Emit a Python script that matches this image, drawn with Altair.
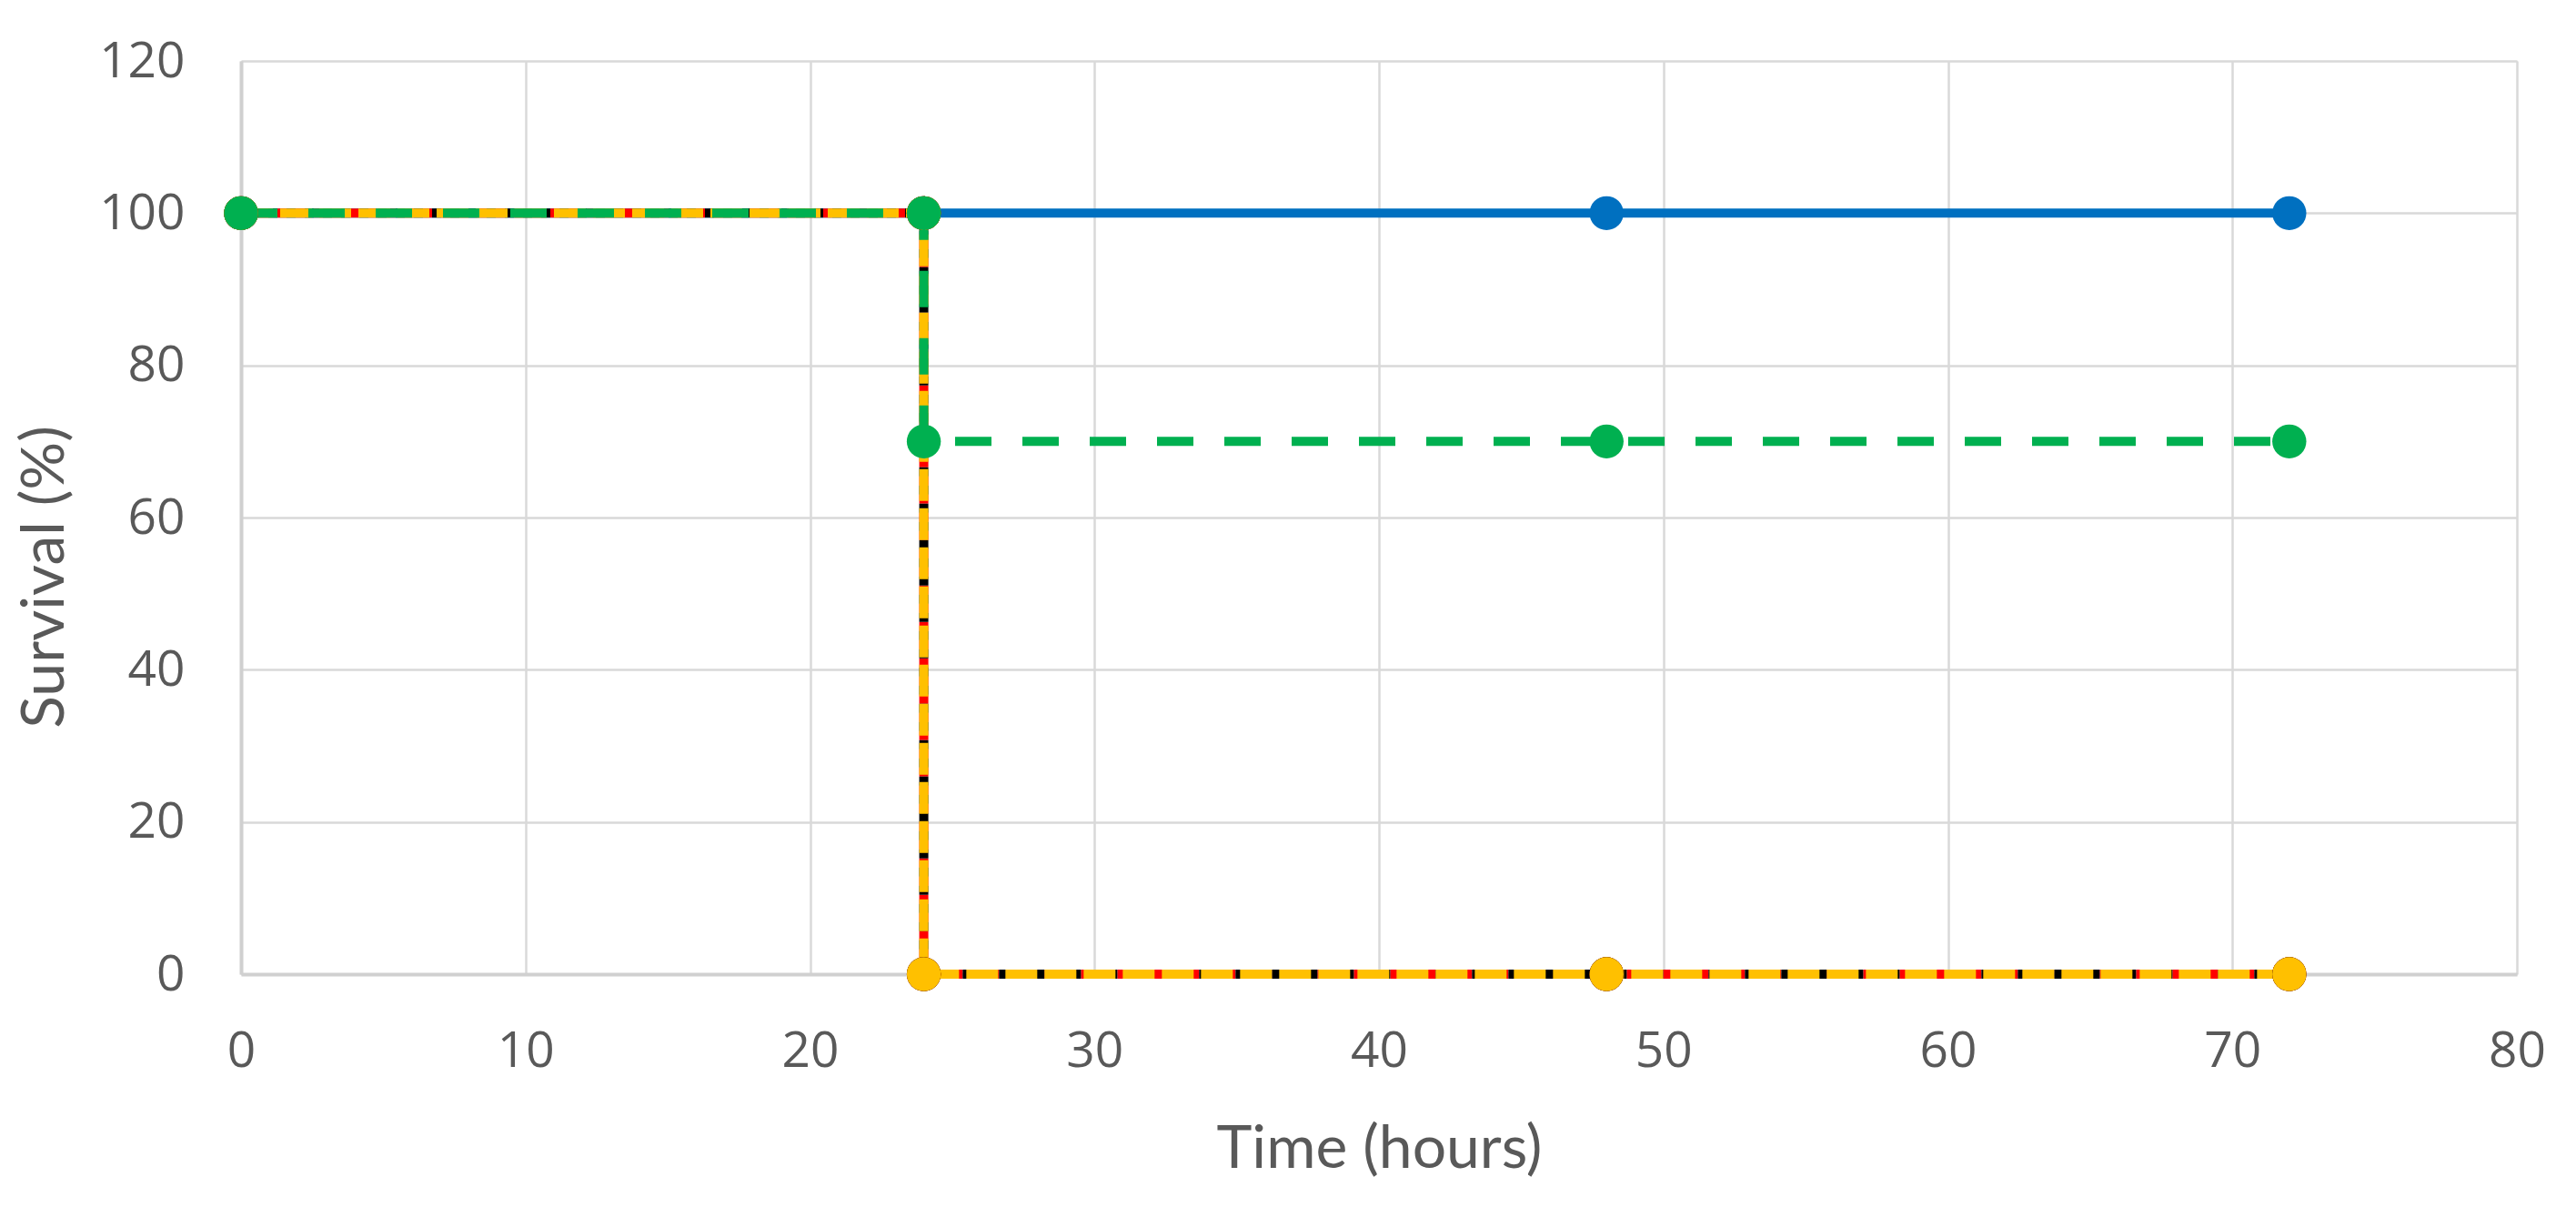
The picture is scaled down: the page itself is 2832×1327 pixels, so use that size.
import altair as alt
import pandas as pd

# ---- data ----
time_blue = [0, 24, 48, 72]
surv_blue = [100, 100, 100, 100]

time_green = [0, 24, 24, 48, 72]
surv_green = [100, 100, 70, 70, 70]

time_black = [0, 24, 24, 48, 72]
surv_black = [100, 100, 0, 0, 0]

time_red = [0, 24, 24, 48, 72]
surv_red = [100, 100, 0, 0, 0]

time_yellow = [0, 24, 24, 48, 72]
surv_yellow = [100, 100, 0, 0, 0]

x_ticks = [0, 10, 20, 30, 40, 50, 60, 70, 80]
y_ticks = [0, 20, 40, 60, 80, 100, 120]

series = [
    ("blue", time_blue, surv_blue),
    ("red", time_red, surv_red),
    ("black", time_black, surv_black),
    ("yellow", time_yellow, surv_yellow),
    ("green", time_green, surv_green),
]

rows = []
for name, ts, ss in series:
    for i, (t, s) in enumerate(zip(ts, ss)):
        rows.append({"series": name, "t": t, "s": s, "idx": i})
df = pd.DataFrame(rows)

styles = {
    "blue": dict(color="#0070C0", dash=None, offset=0),
    "red": dict(color="#FF0000", dash=[10, 10], offset=0),
    "black": dict(color="#000000", dash=[10, 10], offset=10),
    "yellow": dict(color="#FFC000", dash=[35, 8], offset=0),
    "green": dict(color="#00B050", dash=[40, 34], offset=0),
}

tick_font = "Open Sans"
title_font = "Lato"
label_color = "#595959"

x_enc = alt.X(
    "t:Q",
    scale=alt.Scale(domain=[0, 80], nice=False, zero=False),
    axis=alt.Axis(
        values=x_ticks,
        title="Time (hours)",
        labelFont=tick_font,
        labelFontSize=55,
        labelColor=label_color,
        labelPadding=58,
        labelFlush=False,
        ticks=False,
        tickSize=0,
        grid=True,
        gridColor="#D9D9D9",
        gridWidth=2.5,
        domainColor="#D0D0D0",
        domainWidth=4,
        titleFont=title_font,
        titleFontSize=66,
        titleFontWeight="normal",
        titleColor=label_color,
        titleBaseline="alphabetic",
        titleY=212,
    ),
)
y_enc = alt.Y(
    "s:Q",
    scale=alt.Scale(domain=[0, 120], nice=False),
    axis=alt.Axis(
        values=y_ticks,
        title="Survival (%)",
        labelFont=tick_font,
        labelFontSize=55,
        labelColor=label_color,
        labelPadding=62,
        labelFlush=False,
        ticks=False,
        tickSize=0,
        grid=True,
        gridColor="#D9D9D9",
        gridWidth=2.5,
        domainColor="#D0D0D0",
        domainWidth=4,
        titleFont=title_font,
        titleFontSize=66,
        titleFontWeight="normal",
        titleColor=label_color,
        titleAngle=-90,
        titleAlign="center",
        titleBaseline="middle",
        titleX=-216,
        titleY=567,
    ),
)

base = alt.Chart(df)
layers = []
for name, _, _ in series:
    st = styles[name]
    line_kwargs = dict(color=st["color"], strokeWidth=10, strokeCap="butt", clip=False)
    if st["dash"] is not None:
        line_kwargs["strokeDash"] = st["dash"]
        line_kwargs["strokeDashOffset"] = st["offset"]
    line = base.transform_filter(alt.datum.series == name).mark_line(**line_kwargs).encode(
        x=x_enc, y=y_enc, order="idx:Q"
    )
    layers.append(line)
for name, _, _ in series:
    st = styles[name]
    pts = base.transform_filter(alt.datum.series == name).mark_circle(
        color=st["color"], size=1400, opacity=1
    ).encode(x=x_enc, y=y_enc)
    layers.append(pts)

chart = alt.layer(*layers).properties(
    width=2502,
    height=1004,
    autosize=alt.AutoSizeParams(type="none"),
    padding={"left": 257, "top": 59, "right": 50, "bottom": 230},
).configure_view(stroke=None).configure(background="white")

chart.save("out.html", embed_options={"renderer": "svg", "actions": False})
